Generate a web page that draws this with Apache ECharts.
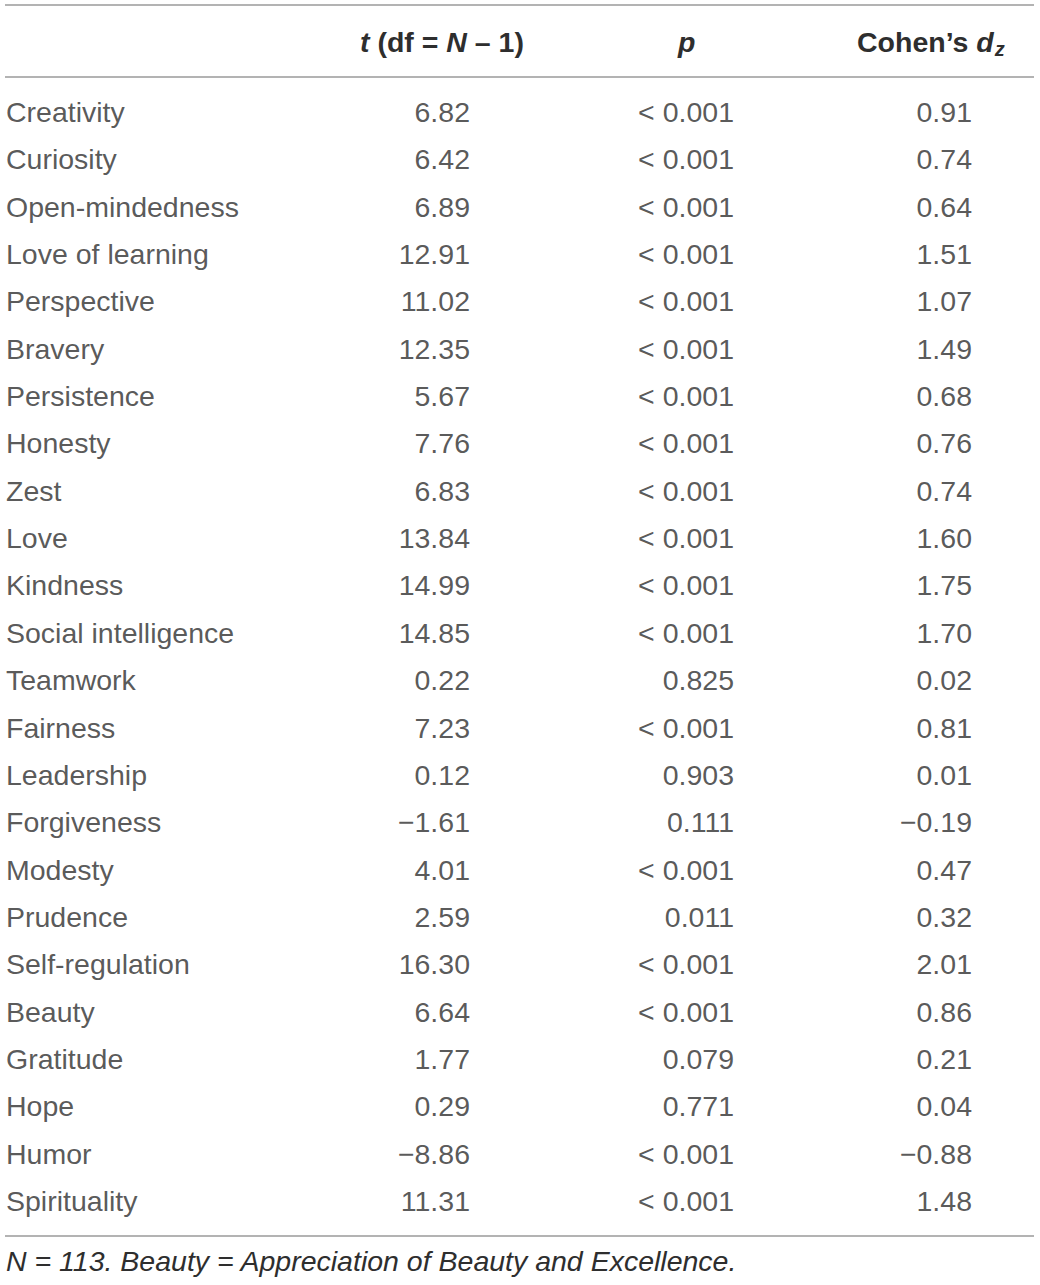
<!DOCTYPE html>
<html lang="en">
<head>
    <meta charset="UTF-8">
    <title>Strengths t-test table</title>
    <script src="https://cdn.jsdelivr.net/npm/echarts@6/dist/echarts.min.js"></script>
    <style>
        html, body { margin: 0; padding: 0; background: #fff; }
    </style>
</head>
<body>
<div id="main" style="width:1040px;height:1285px;"></div>
<script type="text/javascript">
    // table data
    var strengths = ['Creativity', 'Curiosity', 'Open-mindedness', 'Love of learning', 'Perspective',
        'Bravery', 'Persistence', 'Honesty', 'Zest', 'Love', 'Kindness', 'Social intelligence',
        'Teamwork', 'Fairness', 'Leadership', 'Forgiveness', 'Modesty', 'Prudence',
        'Self-regulation', 'Beauty', 'Gratitude', 'Hope', 'Humor', 'Spirituality'];
    var tValues = ['6.82', '6.42', '6.89', '12.91', '11.02', '12.35', '5.67', '7.76', '6.83',
        '13.84', '14.99', '14.85', '0.22', '7.23', '0.12', '\u22121.61', '4.01', '2.59',
        '16.30', '6.64', '1.77', '0.29', '\u22128.86', '11.31'];
    var pValues = ['< 0.001', '< 0.001', '< 0.001', '< 0.001', '< 0.001', '< 0.001', '< 0.001',
        '< 0.001', '< 0.001', '< 0.001', '< 0.001', '< 0.001', '0.825', '< 0.001', '0.903',
        '0.111', '< 0.001', '0.011', '< 0.001', '< 0.001', '0.079', '0.771', '< 0.001', '< 0.001'];
    var dValues = ['0.91', '0.74', '0.64', '1.51', '1.07', '1.49', '0.68', '0.76', '0.74',
        '1.60', '1.75', '1.70', '0.02', '0.81', '0.01', '\u22120.19', '0.47', '0.32',
        '2.01', '0.86', '0.21', '0.04', '\u22120.88', '1.48'];
    var columns = ['strength', 't', 'p', 'd'];
    var note = 'N = 113. Beauty = Appreciation of Beauty and Excellence.';

    var textColor = '#2e2e2e';
    var ruleColor = '#9a9a9a';
    var font = '"Liberation Sans", Arial, Helvetica, sans-serif';
    var size = 28.5;

    var myChart = echarts.init(document.getElementById('main'), null, {renderer: 'svg'});

    // one text column = one scatter series with invisible symbols and visible labels
    function column(key, texts, align, dx) {
        return {
            type: 'scatter',
            symbolSize: 1,
            itemStyle: {color: 'rgba(0,0,0,0)'},
            silent: true,
            data: texts.map(function (t, i) { return [key, strengths[i], t]; }),
            label: {
                show: true,
                position: 'inside',
                align: align,
                verticalAlign: 'middle',
                offset: [dx, 0],
                color: textColor,
                fontFamily: font,
                fontSize: size,
                formatter: function (p) { return p.data[2]; }
            }
        };
    }

    function rule(y, x1, x2) {
        return {
            type: 'line',
            shape: {x1: x1, y1: y, x2: x2, y2: y},
            style: {stroke: ruleColor, lineWidth: 1.5}
        };
    }

    var bold = {fontFamily: font, fontSize: size, fontWeight: 'bold', fill: textColor};
    var boldItalic = {fontFamily: font, fontSize: size, fontWeight: 'bold', fontStyle: 'italic', fill: textColor};

    var option = {
        backgroundColor: '#fff',
        animation: false,
        grid: {left: 0, width: 1040, top: 88.3, height: 1136.4},
        xAxis: {type: 'category', data: columns, show: false},
        yAxis: {type: 'category', data: strengths, inverse: true, show: false},
        series: [
            column('strength', strengths, 'left', -124),
            column('t', tValues, 'right', 80),
            column('p', pValues, 'right', 84),
            column('d', dValues, 'right', 62)
        ],
        graphic: [
            rule(5, 5, 1034),
            rule(77, 5, 1034),
            rule(1236, 5, 1034),
            {
                type: 'text', left: 360, top: 27,
                style: {
                    text: '{bi|t}{b| (df = }{bi|N}{b| \u2013 1)}',
                    fill: textColor,
                    rich: {b: bold, bi: boldItalic}
                }
            },
            {
                type: 'text', left: 678, top: 27,
                style: {
                    text: '{bi|p}', fill: textColor,
                    rich: {bi: boldItalic}
                }
            },
            {
                type: 'text', left: 857, top: 27,
                style: {
                    text: '{b|Cohen\u2019s }{bi|d}{sub|z}',
                    fill: textColor,
                    rich: {
                        b: bold,
                        bi: boldItalic,
                        sub: {fontFamily: font, fontSize: 20, fontWeight: 'bold', fontStyle: 'italic',
                            fill: textColor, padding: [14, 0, 0, 1]}
                    }
                }
            },
            {
                type: 'text', left: 6, top: 1246,
                style: {
                    text: note, fill: textColor,
                    font: 'italic ' + size + 'px ' + font
                }
            }
        ]
    };

    myChart.setOption(option);
</script>
</body>
</html>
